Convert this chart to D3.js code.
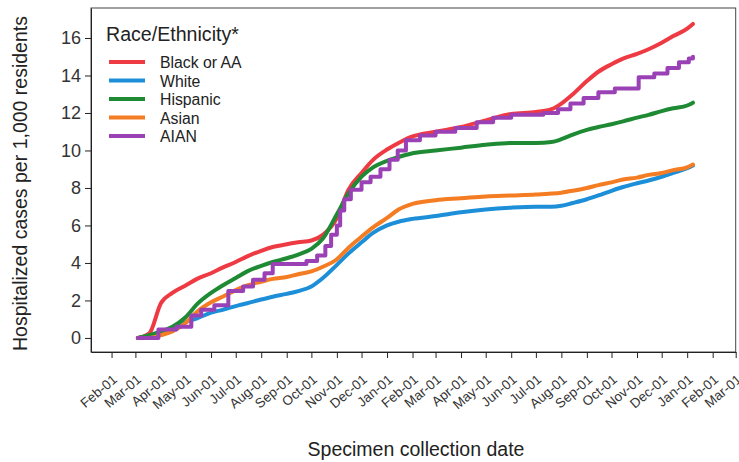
<!DOCTYPE html>
<html>
<head>
<meta charset="utf-8">
<script src="https://cdn.jsdelivr.net/npm/d3@7"></script>
<style>
  html, body { margin: 0; padding: 0; background: #fff; }
  svg { display: block; font-family: "Liberation Sans", Arial, sans-serif; }
</style>
</head>
<body>
<svg id="chart" width="739" height="462"></svg>
<script>
// ---------------- DATA ----------------
const seriesNames = ["Black or AA", "White", "Hispanic", "Asian", "AIAN"];
const seriesColors = ["#EE3B43", "#1C8FD8", "#1E8A34", "#F47C22", "#9B41B6"];

const dates = [
  "2020-03-04","2020-03-18","2020-04-01","2020-04-15","2020-05-01","2020-05-15",
  "2020-06-01","2020-06-15","2020-07-01","2020-07-15","2020-08-01","2020-08-15",
  "2020-09-01","2020-09-15","2020-10-01","2020-10-15","2020-11-01","2020-11-15",
  "2020-12-01","2020-12-15","2021-01-01","2021-01-15","2021-02-01","2021-03-01",
  "2021-04-01","2021-05-01","2021-06-01","2021-07-01","2021-07-20","2021-08-01",
  "2021-08-15","2021-09-01","2021-09-15","2021-10-01","2021-10-15","2021-11-01",
  "2021-11-15","2021-12-01","2021-12-15","2022-01-01","2022-01-08"
];

const blackValues = [
  0, 0.25, 1.85, 2.4, 2.8, 3.15, 3.45, 3.75, 4.05, 4.35, 4.65, 4.85,
  5.0, 5.1, 5.2, 5.5, 6.4, 7.9, 8.8, 9.5, 10.05, 10.4, 10.75, 11.0,
  11.25, 11.6, 11.95, 12.05, 12.2, 12.5, 13.0, 13.7, 14.2, 14.6, 14.9, 15.15,
  15.4, 15.75, 16.1, 16.5, 16.75
];
const whiteValues = [
  0, 0.1, 0.3, 0.55, 0.85, 1.05, 1.35, 1.5, 1.7, 1.85, 2.05, 2.2,
  2.35, 2.5, 2.75, 3.2, 3.9, 4.5, 5.1, 5.6, 6.0, 6.2, 6.35, 6.5,
  6.7, 6.85, 6.95, 7.0, 7.0, 7.05, 7.2, 7.4, 7.6, 7.85, 8.05, 8.25,
  8.4, 8.6, 8.8, 9.05, 9.2
];
const hispanicValues = [
  0, 0.15, 0.35, 0.6, 1.1, 1.8, 2.4, 2.8, 3.2, 3.55, 3.85, 4.05,
  4.25, 4.45, 4.75, 5.3, 6.6, 7.7, 8.6, 9.1, 9.45, 9.65, 9.85, 10.0,
  10.15, 10.3, 10.4, 10.4, 10.45, 10.6, 10.85, 11.1, 11.25, 11.4, 11.55, 11.75,
  11.9, 12.1, 12.25, 12.4, 12.55
];
const asianValues = [
  0, 0, 0.15, 0.35, 0.8, 1.4, 1.9, 2.2, 2.55, 2.8, 3.0, 3.15,
  3.25, 3.4, 3.55, 3.8, 4.2, 4.8, 5.4, 5.9, 6.4, 6.85, 7.15, 7.35,
  7.45, 7.55, 7.6, 7.65, 7.7, 7.75, 7.85, 8.0, 8.15, 8.3, 8.45, 8.55,
  8.7, 8.8, 8.95, 9.1, 9.25
];

// AIAN is a step series with its own dates
const aianDates = [
  "2020-03-04","2020-03-29","2020-04-20","2020-05-08","2020-05-20","2020-06-05",
  "2020-06-22","2020-07-10","2020-07-22","2020-08-05","2020-08-15","2020-09-25",
  "2020-10-08","2020-10-18","2020-10-25","2020-11-01","2020-11-05","2020-11-10",
  "2020-11-18","2020-12-01","2020-12-12","2020-12-24","2021-01-04","2021-01-14",
  "2021-01-24","2021-02-10","2021-03-01","2021-03-25","2021-04-20","2021-05-10",
  "2021-06-01","2021-07-10","2021-07-28","2021-08-12","2021-08-28","2021-09-15",
  "2021-10-05","2021-11-03","2021-11-22","2021-12-08","2021-12-22","2022-01-03",
  "2022-01-08"
];
const aianValues = [
  0, 0.45, 0.6, 1.2, 1.5, 1.75,
  2.5, 2.75, 3.1, 3.45, 3.95, 4.1,
  4.4, 4.9, 5.5, 6.0, 6.8, 7.4,
  7.9, 8.3, 8.6, 9.0, 9.5, 10.0,
  10.55, 10.8, 11.0, 11.2, 11.5, 11.75,
  11.9, 12.0, 12.2, 12.5, 12.8, 13.1,
  13.3, 13.9, 14.1, 14.4, 14.7, 14.9,
  15.0
];

const yTicks = [0, 2, 4, 6, 8, 10, 12, 14, 16];
const xTickStart = "2020-02-01", xTickEnd = "2022-03-01";
const xDomain = ["2020-01-07", "2022-03-01"];
const yDomain = [-0.75, 17.6];
const yTitle = "Hospitalized cases per 1,000 residents";
const xTitle = "Specimen collection date";
const legendTitle = "Race/Ethnicity*";

// ---------------- CHART ----------------
(function () {
const parse = d3.timeParse("%Y-%m-%d");
const svg = d3.select("#chart");
const W = 739, H = 462;
svg.append("rect").attr("width", W).attr("height", H).attr("fill", "#fff");

const pl = 91, pr = 735.7, pt = 8, pb = 352;
const x = d3.scaleTime().domain(xDomain.map(parse)).range([pl, pr]);
const y = d3.scaleLinear().domain(yDomain).range([pb, pt]);

const toPts = (ds, vs) => ds.map((d, i) => ({ date: parse(d), value: vs[i] }));
const series = [
  { name: seriesNames[0], color: seriesColors[0], pts: toPts(dates, blackValues), curve: d3.curveMonotoneX },
  { name: seriesNames[1], color: seriesColors[1], pts: toPts(dates, whiteValues), curve: d3.curveMonotoneX },
  { name: seriesNames[2], color: seriesColors[2], pts: toPts(dates, hispanicValues), curve: d3.curveMonotoneX },
  { name: seriesNames[3], color: seriesColors[3], pts: toPts(dates, asianValues), curve: d3.curveMonotoneX },
  { name: seriesNames[4], color: seriesColors[4], pts: toPts(aianDates, aianValues), curve: d3.curveStepAfter }
];

const drawOrder = [1, 0, 2, 3, 4];
const g = svg.append("g");
drawOrder.forEach(i => {
  const s = series[i];
  const line = d3.line().x(d => x(d.date)).y(d => y(d.value)).curve(s.curve);
  g.append("path").datum(s.pts)
    .attr("fill", "none")
    .attr("stroke", s.color)
    .attr("stroke-width", 4)
    .attr("stroke-linejoin", "round")
    .attr("stroke-linecap", "round")
    .attr("d", line);
});

svg.append("rect")
  .attr("x", pl).attr("y", pt)
  .attr("width", pr - pl).attr("height", pb - pt)
  .attr("fill", "none").attr("stroke", "#444").attr("stroke-width", 1);

const yAxis = d3.axisLeft(y).tickValues(yTicks).tickSize(6).tickSizeOuter(0).tickPadding(4);
const yg = svg.append("g").attr("transform", `translate(${pl},0)`).call(yAxis);
yg.select(".domain").attr("stroke", "#222");
yg.selectAll(".tick line").attr("stroke", "#222");
yg.selectAll(".tick text").attr("font-size", 18).attr("fill", "#333")
  .attr("font-family", "Liberation Sans, Arial, sans-serif");

const xTickVals = d3.timeMonth.range(parse(xTickStart), d3.timeDay.offset(parse(xTickEnd), 1));
const xAxis = d3.axisBottom(x).tickValues(xTickVals).tickFormat(d3.timeFormat("%b-%d"))
  .tickSize(6).tickSizeOuter(0);
const xg = svg.append("g").attr("transform", `translate(0,${pb})`).call(xAxis);
xg.select(".domain").attr("stroke", "#222");
xg.selectAll(".tick line").attr("stroke", "#222");
xg.selectAll(".tick text")
  .attr("font-size", 13.5).attr("fill", "#333")
  .attr("font-family", "Liberation Sans, Arial, sans-serif")
  .attr("text-anchor", "end")
  .attr("dy", null)
  .attr("y", 0)
  .attr("transform", "translate(6,29) rotate(-40)");

svg.append("text")
  .attr("transform", `translate(27,${(12 + 355) / 2}) rotate(-90)`)
  .attr("text-anchor", "middle")
  .attr("font-size", 19.5).attr("fill", "#222")
  .text(yTitle);

svg.append("text")
  .attr("x", 416).attr("y", 456)
  .attr("text-anchor", "middle")
  .attr("font-size", 19.5).attr("fill", "#222")
  .text(xTitle);

const lg = svg.append("g");
lg.append("text").attr("x", 106).attr("y", 41)
  .attr("font-size", 19.6).attr("fill", "#222").text(legendTitle);
seriesNames.forEach((name, i) => {
  const yy = 62 + i * 18.5;
  lg.append("line").attr("x1", 109).attr("x2", 145).attr("y1", yy).attr("y2", yy)
    .attr("stroke", seriesColors[i]).attr("stroke-width", 4);
  lg.append("text").attr("x", 160).attr("y", yy + 6)
    .attr("font-size", 15.8).attr("fill", "#222").text(name);
});
})();
</script>
</body>
</html>
